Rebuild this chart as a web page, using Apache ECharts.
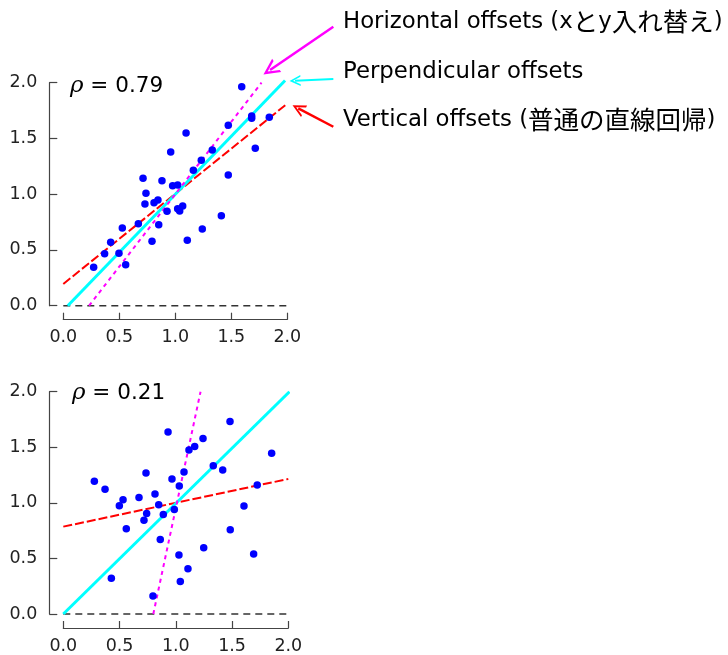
<!DOCTYPE html>
<html><head><meta charset="utf-8">
<script src="https://cdn.jsdelivr.net/npm/echarts@6/dist/echarts.min.js"></script>
<style>html,body{margin:0;padding:0;background:#fff}#c{width:728px;height:655px}</style>
</head><body><div id="c"></div>
<script>
// ---------- data ----------
const tickValues = [0, 0.5, 1.0, 1.5, 2.0];
const tickLabels = ['0.0', '0.5', '1.0', '1.5', '2.0'];

const topPoints = [
  [1.593,1.964],[1.682,1.701],[1.682,1.681],[1.839,1.690],[1.473,1.618],[1.714,1.412],
  [1.096,1.549],[0.959,1.378],[1.330,1.396],[1.232,1.304],[1.161,1.214],[0.712,1.143],
  [0.881,1.121],[0.976,1.076],[1.021,1.083],[0.738,1.008],[1.473,1.172],[0.729,0.912],
  [0.810,0.924],[0.845,0.948],[0.926,0.847],[1.021,0.870],[1.039,0.849],[1.066,0.894],
  [1.411,0.807],[0.670,0.735],[0.852,0.727],[0.527,0.697],[1.241,0.688],[0.792,0.577],
  [1.107,0.586],[0.423,0.568],[0.369,0.467],[0.497,0.470],[0.271,0.344],[0.557,0.368]
];
const bottomPoints = [
  [1.482,1.732],[0.931,1.637],[1.242,1.580],[1.168,1.506],[1.117,1.476],[1.852,1.446],
  [1.333,1.334],[1.417,1.295],[0.735,1.268],[1.073,1.277],[0.966,1.214],[0.276,1.194],
  [0.371,1.122],[1.031,1.152],[1.724,1.161],[0.673,1.048],[0.815,1.080],[0.531,1.027],
  [0.498,0.973],[0.848,0.982],[0.987,0.941],[0.741,0.905],[0.889,0.896],[1.606,0.971],
  [0.717,0.843],[0.560,0.768],[1.484,0.759],[0.862,0.670],[1.248,0.596],[1.028,0.530],
  [1.692,0.539],[1.108,0.408],[0.427,0.321],[1.040,0.292],[0.797,0.161]
];

// fitted lines, endpoints
const topVertical      = [[0, 0.195], [2.0, 1.813]];
const topPerpendicular = [[0.04, 0], [1.98, 2.02]];
const topHorizontal    = [[0.23, 0], [1.77, 2.0]];
const bottomVertical      = [[0, 0.786], [2.0, 1.215]];
const bottomPerpendicular = [[0, 0], [2.01, 2.0]];
const bottomHorizontal    = [[0.80, 0], [1.22, 2.0]];
const zeroLine = [[0, 0], [2.0, 0]];

const rhoLabels = ['0.79', '0.21'];

// annotation arrows (top panel data coordinates): [tail, head]
const arrowHorizontal    = [[2.411, 2.502], [1.846, 2.114]];
const arrowPerpendicular = [[2.411, 2.033], [2.069, 2.018]];
const arrowVertical      = [[2.411, 1.605], [2.098, 1.770]];
const annotationTexts = [
  ['Horizontal offsets (x', 'と', 'y', '入れ替え', ')'],
  ['Perpendicular offsets'],
  ['Vertical offsets (', '普通の直線回帰', ')']
];

// ---------- chart ----------
const chart = echarts.init(document.getElementById('c'), null, {renderer: 'canvas'});
const AX = '#444';
const labelFmt = v => { const i = tickValues.indexOf(Math.round(v * 2) / 2); return i >= 0 ? tickLabels[i] : ''; };

function xAx(g) {
  return {type: 'value', gridIndex: g, min: 0, max: 2, interval: 0.5, offset: 14,
    axisLine: {show: true, onZero: false, lineStyle: {color: AX, width: 1.2}},
    axisTick: {show: true, inside: true, length: 7, lineStyle: {color: AX, width: 1.2}},
    axisLabel: {margin: 9, fontFamily: 'DejaVu Sans', fontSize: 17.5, color: '#222', formatter: labelFmt},
    splitLine: {show: false}};
}
function yAx(g) {
  return {type: 'value', gridIndex: g, min: 0, max: 2, interval: 0.5, offset: 14,
    axisLine: {show: true, onZero: false, lineStyle: {color: AX, width: 1.2}},
    axisTick: {show: true, inside: true, length: 8, lineStyle: {color: AX, width: 1.2}},
    axisLabel: {margin: 12, fontFamily: 'DejaVu Sans', fontSize: 17.5, color: '#222', formatter: labelFmt},
    splitLine: {show: false}};
}
function lineS(g, data, color, width, type, z) {
  return {type: 'line', xAxisIndex: g, yAxisIndex: g, data: data, showSymbol: false, symbol: 'none',
    clip: false, silent: true, z: z || 2, animation: false,
    lineStyle: {color: color, width: width, type: type}};
}
function scatterS(g, data) {
  return {type: 'scatter', xAxisIndex: g, yAxisIndex: g, data: data, symbolSize: 7.5,
    itemStyle: {color: '#0000ff', opacity: 1}, z: 3, animation: false};
}
const openArrow = 'path://M5,0 L10,10 L8.4,10 L5,3.2 L1.6,10 L0,10 Z';
function arrowS(coords, color, width, size) {
  return {type: 'lines', coordinateSystem: 'cartesian2d', xAxisIndex: 0, yAxisIndex: 0,
    clip: false, silent: true, animation: false, z: 4,
    symbol: ['none', openArrow], symbolSize: size,
    itemStyle: {color: color},
    lineStyle: {color: color, width: width, opacity: 1, curveness: 0},
    data: [{coords: coords}]};
}

const latinFont = 'DejaVu Sans';
function annot(i, y) {
  const parts = annotationTexts[i];
  const txt = parts.map(p => (/[\u3040-\u30ff\u4e00-\u9fff]/.test(p) ? '{b|' : '{a|') + p + '}').join('');
  return {type: 'text', left: 343, top: y, z: 10,
    style: {text: txt,
      rich: {a: {fontFamily: latinFont, fontSize: 22.8, color: '#111'},
             b: {fontFamily: 'Noto Sans CJK JP', fontSize: 25.5, color: '#111'}}}};
}
function rho(i, x, y) {
  return {type: 'text', left: x, top: y, z: 10,
    style: {text: '{r|ρ}{a| = ' + rhoLabels[i] + '}',
      rich: {r: {fontFamily: 'DejaVu Serif', fontStyle: 'italic', fontSize: 23, color: '#222'},
             a: {fontFamily: latinFont, fontSize: 21.5, color: '#222'}}}};
}

chart.setOption({
  animation: false,
  backgroundColor: '#fff',
  grid: [
    {left: 63.3, top: 82.7, width: 224, height: 223},
    {left: 63.3, top: 391.7, width: 225, height: 224}
  ],
  xAxis: [xAx(0), xAx(1)],
  yAxis: [yAx(0), yAx(1)],
  series: [
    lineS(0, zeroLine, '#333', 1.4, [7, 5], 1),
    lineS(0, topVertical, '#ff0000', 2, [9, 3]),
    lineS(0, topPerpendicular, '#00ffff', 3, 'solid'),
    lineS(0, topHorizontal, '#ff00ff', 2, [4, 4]),
    scatterS(0, topPoints),
    lineS(1, zeroLine, '#333', 1.4, [7, 5], 1),
    lineS(1, bottomVertical, '#ff0000', 2, [9, 3]),
    lineS(1, bottomPerpendicular, '#00ffff', 3, 'solid'),
    lineS(1, bottomHorizontal, '#ff00ff', 2, [4, 4]),
    scatterS(1, bottomPoints),
    arrowS(arrowHorizontal, '#ff00ff', 2.5, 16),
    arrowS(arrowPerpendicular, '#00ffff', 2, 11),
    arrowS(arrowVertical, '#ff0000', 2.5, 13)
  ],
  graphic: [
    annot(0, 9), annot(1, 61), annot(2, 107),
    rho(0, 70, 75), rho(1, 72, 382)
  ]
});
</script></body></html>
